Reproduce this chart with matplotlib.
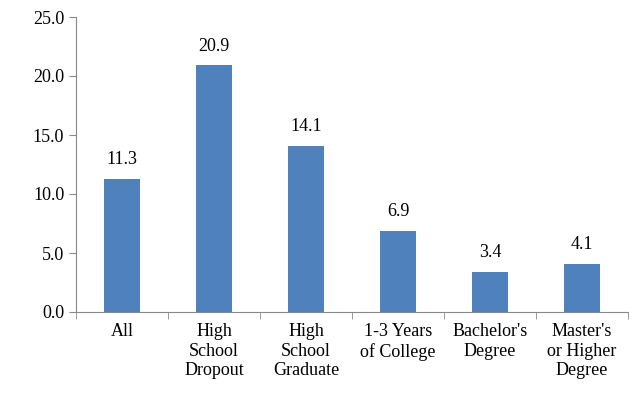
import matplotlib.pyplot as plt
import numpy as np

categories = ["All", "High\nSchool\nDropout", "High\nSchool\nGraduate", "1-3 Years\nof College",
              "Bachelor's\nDegree", "Master's\nor Higher\nDegree"]
values = [11.3, 20.9, 14.1, 6.9, 3.4, 4.1]

plt.rcParams['font.family'] = 'Liberation Serif'
fig = plt.figure(figsize=(6.41, 4.04), dpi=100)
ax = fig.add_axes([76 / 641, 1 - 312 / 404, 552 / 641, 295 / 404])

x = np.arange(len(values))
ax.bar(x, values, width=0.4, color='#4F81BD')
for xi, v in zip(x, values):
    ax.text(xi, v + 0.9, f"{v:.1f}", ha='center', va='bottom', fontsize=13)

ax.set_xlim(-0.5, len(values) - 0.5)
ax.set_ylim(0, 25)
ax.set_yticks(np.arange(0, 25.1, 5))
ax.set_yticklabels([f"{t:.1f}" for t in np.arange(0, 25.1, 5)], fontsize=13)
ax.set_xticks(x)
ax.set_xticklabels(categories, fontsize=13, va='top')
ax.tick_params(axis='x', length=0, pad=8)
ax.set_xticks(np.arange(-0.5, len(values)), minor=True)
ax.tick_params(axis='x', which='minor', length=5, color='#888888')
ax.tick_params(axis='y', length=5, color='#888888')
for s in ['top', 'right']:
    ax.spines[s].set_visible(False)
for s in ['left', 'bottom']:
    ax.spines[s].set_color('#888888')

fig.savefig('out.png', dpi=100)
